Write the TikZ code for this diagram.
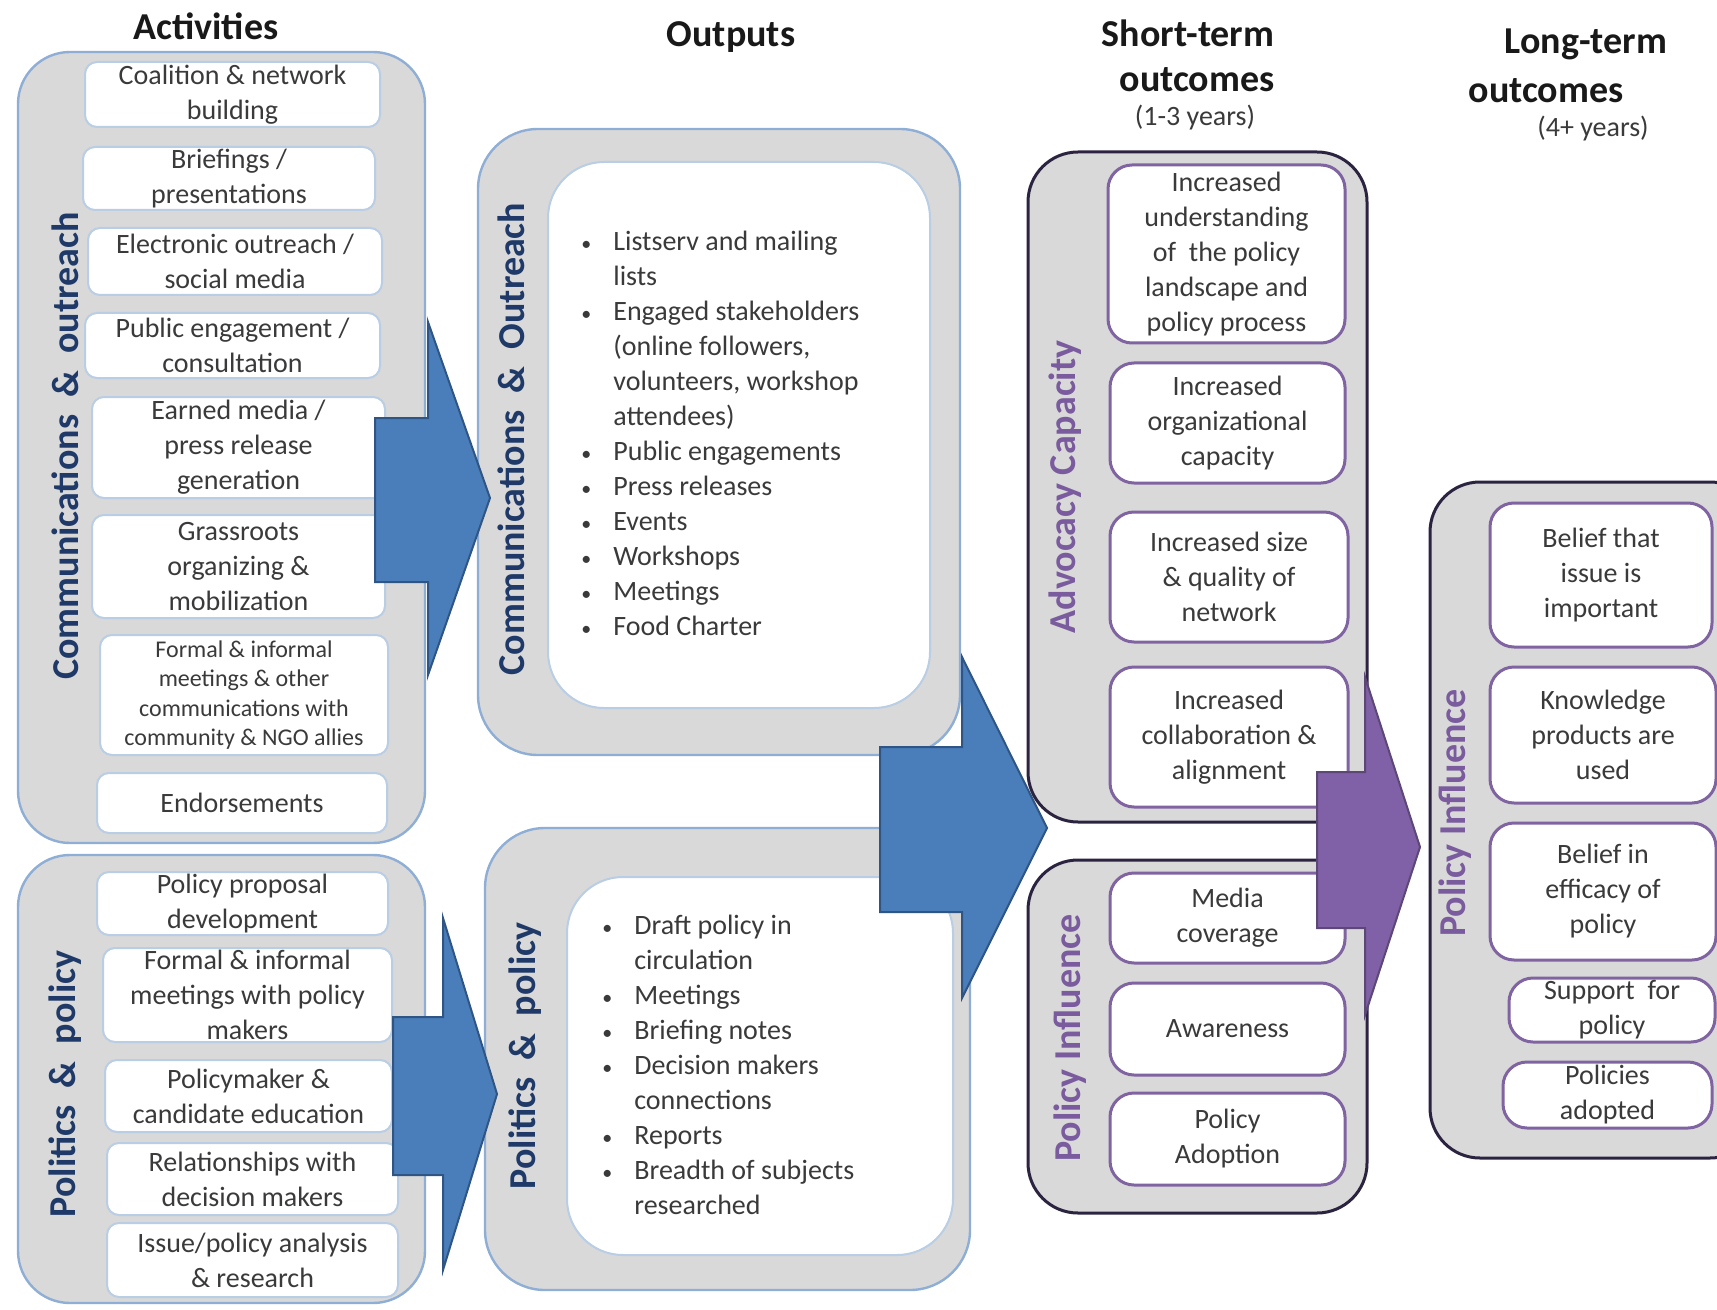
\documentclass[tikz,border=0pt]{standalone}
\usepackage{fontspec}
\setmainfont{Carlito}

\definecolor{boxgray}{HTML}{D9D9D9}
\definecolor{edgeblue}{HTML}{8EAED6}
\definecolor{actedge}{HTML}{B9CDE5}
\definecolor{arrowblue}{HTML}{4A7EBB}
\definecolor{arrowedge}{HTML}{2F5584}
\definecolor{navy}{HTML}{1F3A68}
\definecolor{darkedge}{HTML}{2B2340}
\definecolor{midpurple}{HTML}{8064A2}
\definecolor{labpurple}{HTML}{7A5C9E}
\definecolor{arrowpurple}{HTML}{8060A6}
\definecolor{purpleedge}{HTML}{5C4776}
\definecolor{txtgray}{HTML}{3A3A3A}

\newcommand{\bul}{{\fontsize{10}{10}\selectfont\textbullet}}

\tikzset{
  sz/.style 2 args={minimum width=#1*0.5pt, minimum height=#2*0.5pt},
  bluegroup/.style={draw=edgeblue, line width=1.2pt, fill=boxgray, rounded corners=26pt, inner sep=0pt},
  whitegroup/.style={draw=actedge, line width=1pt, fill=white, rounded corners=28pt, inner sep=0pt},
  actbox/.style={draw=actedge, line width=1pt, fill=white, rounded corners=6pt, align=center,
    text=txtgray, font=\fontsize{14}{17.5}\selectfont, inner sep=0pt},
  purplegroup/.style={draw=darkedge, line width=1.5pt, fill=boxgray, rounded corners=25pt, inner sep=0pt},
  outbox/.style={draw=midpurple, line width=1.5pt, fill=white, rounded corners=12pt, align=center,
    text=txtgray, font=\fontsize{14}{17.5}\selectfont, inner sep=0pt},
  bluelabel/.style={rotate=90, text=navy, font=\bfseries\fontsize{19}{23}\selectfont},
  purplelabel/.style={rotate=90, text=labpurple, font=\bfseries\fontsize{19}{23}\selectfont},
  bullets/.style={text=txtgray, font=\fontsize{14}{17.5}\selectfont, inner sep=0pt, anchor=west},
  head/.style={text=black!90, font=\bfseries\fontsize{19}{23}\selectfont},
  years/.style={text=txtgray, font=\fontsize{14}{17}\selectfont},
  bluearrow/.style={fill=arrowblue, draw=arrowedge, line width=1pt},
  purplearrow/.style={fill=arrowpurple, draw=purpleedge, line width=1pt}
}

\begin{document}
\begin{tikzpicture}[x=0.5pt, y=-0.5pt]
  \useasboundingbox (0,0) rectangle (1717,1310);
  \clip (0,0) rectangle (1717,1310);

  % Column titles
  \node[head] (tact) at (206,26) {Activities};
  \node[head] (tout) at (731,37) {Outputs};
  \node[head] (tshort) at (1188,33) {Short-term};
  \node[head] (tshortb) at (1197,80) {outcomes};
  \node[years] (yshort) at (1195,118) {(1-3 years)};
  \node[head] (tlong) at (1586,44) {Long-term};
  \node[head] (tlongb) at (1546,91) {outcomes};
  \node[years] (ylong) at (1593,129) {(4+ years)};

  % Activities: communications & outreach
  \node[bluegroup, sz={407}{791}] (actcomm) at (221.5,447.5) {};
  \node[bluelabel] (lactcomm) at (65,446) {Communications \ \& \ outreach};
  \node[actbox, sz={295}{65}] (coal) at (232.5,94.5) {Coalition \& network\\building};
  \node[actbox, sz={292}{63}] (brief) at (229,178.5) {Briefings /\\presentations};
  \node[actbox, sz={294}{67}] (elec) at (235,261.5) {Electronic outreach /\\social media};
  \node[actbox, sz={295}{65}] (pub) at (232.5,345.5) {Public engagement /\\consultation};
  \node[actbox, sz={293}{101}] (earn) at (238.5,447.5) {Earned media /\\press release\\generation};
  \node[actbox, sz={293}{103}] (grass) at (238.5,566.5) {Grassroots\\organizing \&\\mobilization};
  \node[actbox, sz={288}{120}, font=\fontsize{12}{14.8}\selectfont] (formal) at (244,695)
    {Formal \& informal\\meetings \& other\\communications with\\community \& NGO allies};
  \node[actbox, sz={290}{60}] (endo) at (242,803) {Endorsements};

  % Activities: politics & policy
  \node[bluegroup, sz={407}{448}] (actpol) at (221.5,1079) {};
  \node[bluelabel] (lactpol) at (65,1084) {Politics \ \& \ policy};
  \node[actbox, sz={291}{63}] (prop) at (242.5,903.5) {Policy proposal\\development};
  \node[actbox, sz={289}{94}] (meet) at (247.5,995) {Formal \& informal\\meetings with policy\\makers};
  \node[actbox, sz={287}{72}] (pmaker) at (248.5,1096) {Policymaker \&\\candidate education};
  \node[actbox, sz={291}{72}] (rel) at (252.5,1179) {Relationships with\\decision makers};
  \node[actbox, sz={291}{74}] (issue) at (252.5,1260) {Issue/policy analysis\\\& research};

  % Outputs
  \node[bluegroup, sz={482}{626}, rounded corners=30pt] (outcomm) at (719,442) {};
  \node[whitegroup, sz={382}{546}] (outcommw) at (739,435) {};
  \node[bluelabel] (loutcomm) at (511,439) {Communications \ \& \ Outreach};
  \node[bullets] (commlist) at (581,436) {\begin{tabular}{@{}l@{\hspace{11pt}}l@{}}
    \bul & Listserv and mailing\\
     & lists\\
    \bul & Engaged stakeholders\\
     & (online followers,\\
     & volunteers, workshop\\
     & attendees)\\
    \bul & Public engagements\\
    \bul & Press releases\\
    \bul & Events\\
    \bul & Workshops\\
    \bul & Meetings\\
    \bul & Food Charter
  \end{tabular}};

  \node[bluegroup, sz={485}{462}, rounded corners=30pt] (outpol) at (727.5,1059) {};
  \node[whitegroup, sz={386}{378}] (outpolw) at (760,1066) {};
  \node[bluelabel] (loutpol) at (525,1056) {Politics \ \& \ policy};
  \node[bullets] (pollist) at (602,1067) {\begin{tabular}{@{}l@{\hspace{11pt}}l@{}}
    \bul & Draft policy in\\
     & circulation\\
    \bul & Meetings\\
    \bul & Briefing notes\\
    \bul & Decision makers\\
     & connections\\
    \bul & Reports\\
    \bul & Breadth of subjects\\
     & researched
  \end{tabular}};

  % Short-term outcomes
  \node[purplegroup, sz={339}{670}] (adv) at (1197.5,487) {};
  \node[purplelabel] (ladv) at (1065,487) {Advocacy Capacity};
  \node[outbox, sz={237}{178}] (und) at (1226.5,254) {Increased\\understanding\\of \ the policy\\landscape and\\policy process};
  \node[outbox, sz={235}{120}] (org) at (1227.5,423) {Increased\\organizational\\capacity};
  \node[outbox, sz={238}{130}] (size) at (1229,577) {Increased size\\\& quality of\\network};
  \node[outbox, sz={238}{140}] (collab) at (1229,737) {Increased\\collaboration \&\\alignment};

  \node[purplegroup, sz={339}{353}] (inflshort) at (1197.5,1036.5) {};
  \node[purplelabel] (linflshort) at (1070,1038) {Policy Influence};
  \node[outbox, sz={235}{90}] (media) at (1227.5,918) {Media\\coverage};
  \node[outbox, sz={235}{92}] (aware) at (1227.5,1029) {Awareness};
  \node[outbox, sz={235}{92}] (padopt) at (1227.5,1139) {Policy\\Adoption};

  % Long-term outcomes
  \node[purplegroup, sz={330}{676}] (infllong) at (1595,820) {};
  \node[purplelabel] (linfllong) at (1455,813) {Policy Influence};
  \node[outbox, sz={222}{144}] (imp) at (1601,575) {Belief that\\issue is\\important};
  \node[outbox, sz={226}{136}] (know) at (1603,735) {Knowledge\\products are\\used};
  \node[outbox, sz={226}{137}] (eff) at (1603,891.5) {Belief in\\efficacy of\\policy};
  \node[outbox, sz={206}{64}] (supp) at (1612,1010) {Support \ for\\policy};
  \node[outbox, sz={209}{66}] (adopted) at (1607.5,1095) {Policies\\adopted};

  % Block arrows
  \filldraw[bluearrow] (375,418) -- (428,418) -- (428,322) -- (490,498)
    -- (428,675) -- (428,582) -- (375,582) -- cycle;
  \filldraw[bluearrow] (393,1017) -- (443,1017) -- (443,918) -- (497,1094)
    -- (443,1270) -- (443,1175) -- (393,1175) -- cycle;
  \filldraw[bluearrow] (880,747) -- (962,747) -- (962,657) -- (1047,828)
    -- (962,998) -- (962,912) -- (880,912) -- cycle;
  \filldraw[purplearrow] (1317,772) -- (1365,772) -- (1365,677) -- (1420,847)
    -- (1365,1015) -- (1365,928) -- (1317,928) -- cycle;
\end{tikzpicture}
\end{document}
